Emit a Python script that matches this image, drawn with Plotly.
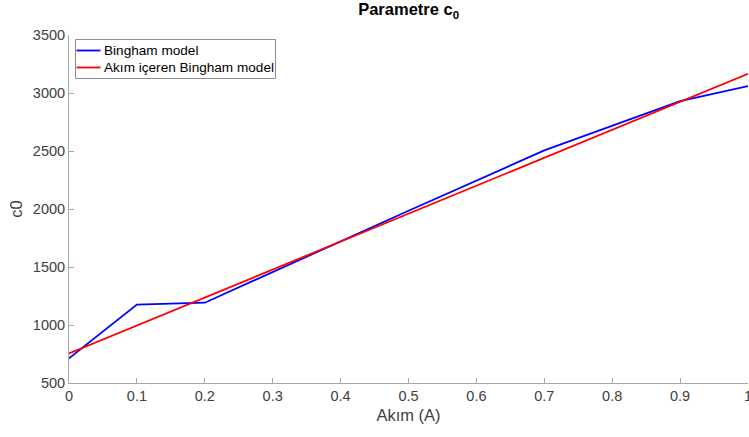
import plotly.graph_objects as go

# Current (A) and c0 parameter values
akim_bingham = [0.0, 0.1, 0.2, 0.5, 0.7, 0.9, 1.0]
c0_bingham = [712, 1176, 1192, 1985, 2505, 2930, 3060]

akim_fit = [0.0, 1.0]
c0_fit = [755, 3165]

series_names = ["Bingham model", "Akım içeren Bingham model"]
series_colors = ["#0000ff", "#ff0000"]

x_ticks = [0, 0.1, 0.2, 0.3, 0.4, 0.5, 0.6, 0.7, 0.8, 0.9, 1]
y_ticks = [500, 1000, 1500, 2000, 2500, 3000, 3500]

FONT = "Liberation Sans, Arial, sans-serif"
AXIS_GREY = "#a6a6a6"
TEXT_GREY = "#404040"

W, H = 749, 437
M = dict(l=69, r=1, t=35, b=54)
PW = W - M["l"] - M["r"]
PH = H - M["t"] - M["b"]


def px_x(px):
    """Pixel column -> paper x."""
    return (px - M["l"]) / PW


def px_y(py):
    """Pixel row (from top) -> paper y."""
    return 1 - (py - M["t"]) / PH


fig = go.Figure()
fig.add_trace(go.Scatter(x=akim_bingham, y=c0_bingham, mode="lines",
                         name=series_names[0], showlegend=False,
                         line=dict(color=series_colors[0], width=1.8)))
fig.add_trace(go.Scatter(x=akim_fit, y=c0_fit, mode="lines",
                         name=series_names[1], showlegend=False,
                         line=dict(color=series_colors[1], width=1.8)))

# Boxed legend in the upper-left corner of the axes
shapes = [dict(type="rect", xref="paper", yref="paper",
               x0=px_x(75.5), x1=px_x(275.5), y0=px_y(78.5), y1=px_y(39.5),
               line=dict(color="#8c8c8c", width=1), fillcolor="white",
               layer="above")]
annotations = []
for i, (name, color) in enumerate(zip(series_names, series_colors)):
    row = 50.5 + i * 17
    shapes.append(dict(type="line", xref="paper", yref="paper",
                       x0=px_x(76.5), x1=px_x(100.5), y0=px_y(row), y1=px_y(row),
                       line=dict(color=color, width=1.8), layer="above"))
    annotations.append(dict(text=name, xref="paper", yref="paper",
                            x=px_x(101.5), y=px_y(row), xanchor="left",
                            yanchor="middle", showarrow=False,
                            font=dict(size=13.6, color="#000000", family=FONT)))

fig.update_layout(
    width=W, height=H,
    margin=M,
    plot_bgcolor="white", paper_bgcolor="white",
    font=dict(family=FONT, color=TEXT_GREY, size=14.5),
    title=dict(text="<b>Parametre c<sub>0</sub></b>", x=0.5456, xanchor="center",
               y=0.992, yanchor="top", font=dict(size=16.5, color="#000000")),
    showlegend=False,
    shapes=shapes,
    annotations=annotations,
)

fig.update_xaxes(range=[0, 1], tickvals=x_ticks,
                 ticktext=[("%g" % v) for v in x_ticks],
                 ticklabeloverflow="allow", automargin=False,
                 showgrid=False, zeroline=False, showline=True,
                 linecolor=AXIS_GREY, linewidth=1,
                 ticks="inside", ticklen=5, tickcolor=AXIS_GREY,
                 tickfont=dict(size=14.5, color=TEXT_GREY),
                 title=dict(text="Akım (A)", font=dict(size=16.5, color=TEXT_GREY),
                            standoff=6))
fig.update_yaxes(range=[500, 3500], tickvals=y_ticks, automargin=False,
                 showgrid=False, zeroline=False, showline=True,
                 linecolor=AXIS_GREY, linewidth=1,
                 ticks="inside", ticklen=5, tickcolor=AXIS_GREY,
                 tickfont=dict(size=14.5, color=TEXT_GREY),
                 title=dict(text="c0", font=dict(size=16.5, color=TEXT_GREY),
                            standoff=6))

fig.write_html("out.html")
